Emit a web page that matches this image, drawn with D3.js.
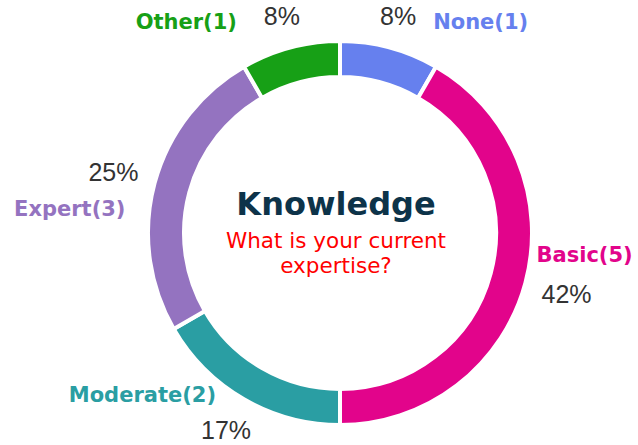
<!DOCTYPE html>
<html>
<head>
<meta charset="utf-8">
<script src="https://cdn.jsdelivr.net/npm/d3@7"></script>
<style>
  html, body { margin: 0; padding: 0; background: #fff; }
</style>
</head>
<body>
<svg id="chart" width="638" height="445"></svg>
<script>
var categories = ['None', 'Basic', 'Moderate', 'Expert', 'Other']
var counts = [1, 5, 2, 3, 1]
var colors = ['#6680ee', '#e2048b', '#2a9ea3', '#9473c0', '#17a016']
var title = 'Knowledge'
var subtitle = ['What is your current', 'expertise?']

// label placement relative to the percent text (layout only)
var nameLayout = {
  None: { anchor: 'start', dx: 35, dy: 13 },
  Basic: { anchor: 'start', dx: -30, dy: -32 },
  Moderate: { anchor: 'end', dx: -10, dy: -28 },
  Expert: { anchor: 'end', dx: 12, dy: 44 },
  Other: { anchor: 'end', dx: -45, dy: 13 }
}

var svg = d3.select('#chart')
var cx = 340, cy = 233
var outerR = 192, innerR = 156
var total = d3.sum(counts)

var data = categories.map(function (c, i) {
  return { name: c, value: counts[i], color: colors[i] }
})

var pie = d3.pie().sort(null).value(function (d) { return d.value })
var arc = d3.arc().innerRadius(innerR).outerRadius(outerR)

var g = svg.append('g').attr('transform', 'translate(' + cx + ',' + cy + ')')
var arcs = pie(data)

g.selectAll('path.slice')
  .data(arcs)
  .enter().append('path')
  .attr('class', 'slice')
  .attr('d', arc)
  .attr('fill', function (d) { return d.data.color })
  .attr('stroke', '#fff')
  .attr('stroke-width', 4)

function pctPos(d) {
  var a = (d.startAngle + d.endAngle) / 2
  var r = 221 + 14 * Math.abs(Math.sin(a))
  return [r * Math.sin(a), -r * Math.cos(a)]
}

g.selectAll('text.pct')
  .data(arcs)
  .enter().append('text')
  .attr('class', 'pct')
  .attr('x', function (d) { return pctPos(d)[0] })
  .attr('y', function (d) { return pctPos(d)[1] })
  .attr('dy', '0.36em')
  .attr('text-anchor', 'middle')
  .style('font-family', '"Liberation Sans", Arial, sans-serif')
  .style('font-size', '25px')
  .attr('fill', '#333')
  .text(function (d) { return Math.round(d.data.value / total * 100) + '%' })

g.selectAll('text.name')
  .data(arcs)
  .enter().append('text')
  .attr('class', 'name')
  .attr('x', function (d) { return pctPos(d)[0] + nameLayout[d.data.name].dx })
  .attr('y', function (d) { return pctPos(d)[1] + nameLayout[d.data.name].dy })
  .attr('text-anchor', function (d) { return nameLayout[d.data.name].anchor })
  .style('font-family', '"DejaVu Sans", Verdana, sans-serif')
  .style('font-weight', 'bold')
  .style('font-size', '21px')
  .attr('fill', function (d) { return d.data.color })
  .text(function (d) { return d.data.name + '(' + d.data.value + ')' })

// center texts
g.append('text')
  .attr('x', -4).attr('y', -18)
  .attr('text-anchor', 'middle')
  .style('font-family', '"DejaVu Sans", Verdana, sans-serif')
  .style('font-weight', 'bold')
  .style('font-size', '32px')
  .attr('fill', '#0d3349')
  .text(title)

g.selectAll('text.sub')
  .data(subtitle)
  .enter().append('text')
  .attr('class', 'sub')
  .attr('x', -4)
  .attr('y', function (d, i) { return 15 + i * 25 })
  .attr('text-anchor', 'middle')
  .style('font-family', '"DejaVu Sans", Verdana, sans-serif')
  .style('font-size', '21.5px')
  .attr('fill', '#ff0000')
  .text(function (d) { return d })
</script>
</body>
</html>
